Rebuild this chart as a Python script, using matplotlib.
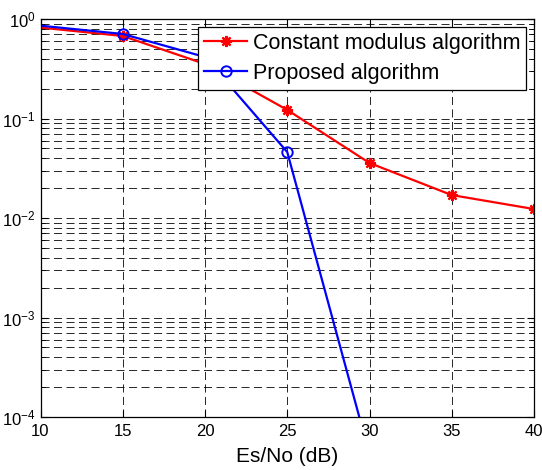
import matplotlib
matplotlib.use('Agg')
import matplotlib.pyplot as plt
from matplotlib.ticker import LogLocator, NullFormatter, MultipleLocator

plt.rcParams['font.family'] = ['Liberation Sans', 'DejaVu Sans']
plt.rcParams['mathtext.fontset'] = 'custom'
plt.rcParams['mathtext.rm'] = 'Liberation Sans'
plt.rcParams['mathtext.it'] = 'Liberation Sans'
plt.rcParams['lines.scale_dashes'] = False

# Es/No in dB
snr = [10, 15, 20, 25, 30, 35, 40]
cma = [0.82, 0.675, 0.353, 0.122, 0.0357, 0.017, 0.0123]
snr_prop = [10, 15, 20, 25, 30]
proposed = [0.857, 0.707, 0.415, 0.046, 4.2e-5]

labels = ['Constant modulus algorithm', 'Proposed algorithm']

fig = plt.figure(figsize=(5.42, 4.70), dpi=100)
ax = fig.add_axes([40.5 / 542, 1 - 417 / 470, (534 - 40.5) / 542, (417 - 19) / 470])

# no marker drawn at the first point in the original
ax.semilogy(snr, cma, '-', marker=(8, 2, 0), color='#ff0000', lw=1.6, ms=8, mew=1.6,
            markevery=list(range(1, len(snr))), label=labels[0])
ax.semilogy(snr_prop, proposed, '-o', color='#0000ff', lw=1.6, ms=7.5, mew=1.4,
            mfc='none', markevery=list(range(1, len(snr_prop))), label=labels[1])

ax.set_xlim(10, 40)
ax.set_ylim(1e-4, 1)
ax.xaxis.set_major_locator(MultipleLocator(5))
ax.yaxis.set_major_locator(LogLocator(base=10))
ax.yaxis.set_minor_locator(LogLocator(base=10, subs=range(2, 10)))
ax.yaxis.set_minor_formatter(NullFormatter())

grid_style = dict(color='k', linestyle=(0, (5.8, 3.2)), linewidth=0.7, alpha=0.85)
ax.grid(True, which='major', axis='both', **grid_style)
ax.grid(True, which='minor', axis='y', **grid_style)

ax.tick_params(which='both', direction='in', top=True, right=True, labelsize=12)
ax.tick_params(axis='x', pad=5)
ax.tick_params(which='major', length=5)
ax.tick_params(which='minor', length=3)
for s in ax.spines.values():
    s.set_linewidth(0.9)

ax.set_xlabel('Es/No (dB)', fontsize=15, labelpad=6)

leg = ax.legend(loc='upper right', fontsize=15.5, borderaxespad=0.35,
                handlelength=2.0, handletextpad=0.25, borderpad=0.3,
                labelspacing=0.4, fancybox=False, framealpha=1)
leg.get_frame().set_edgecolor('k')
leg.get_frame().set_linewidth(0.9)

fig.savefig('out.png', dpi=100)
